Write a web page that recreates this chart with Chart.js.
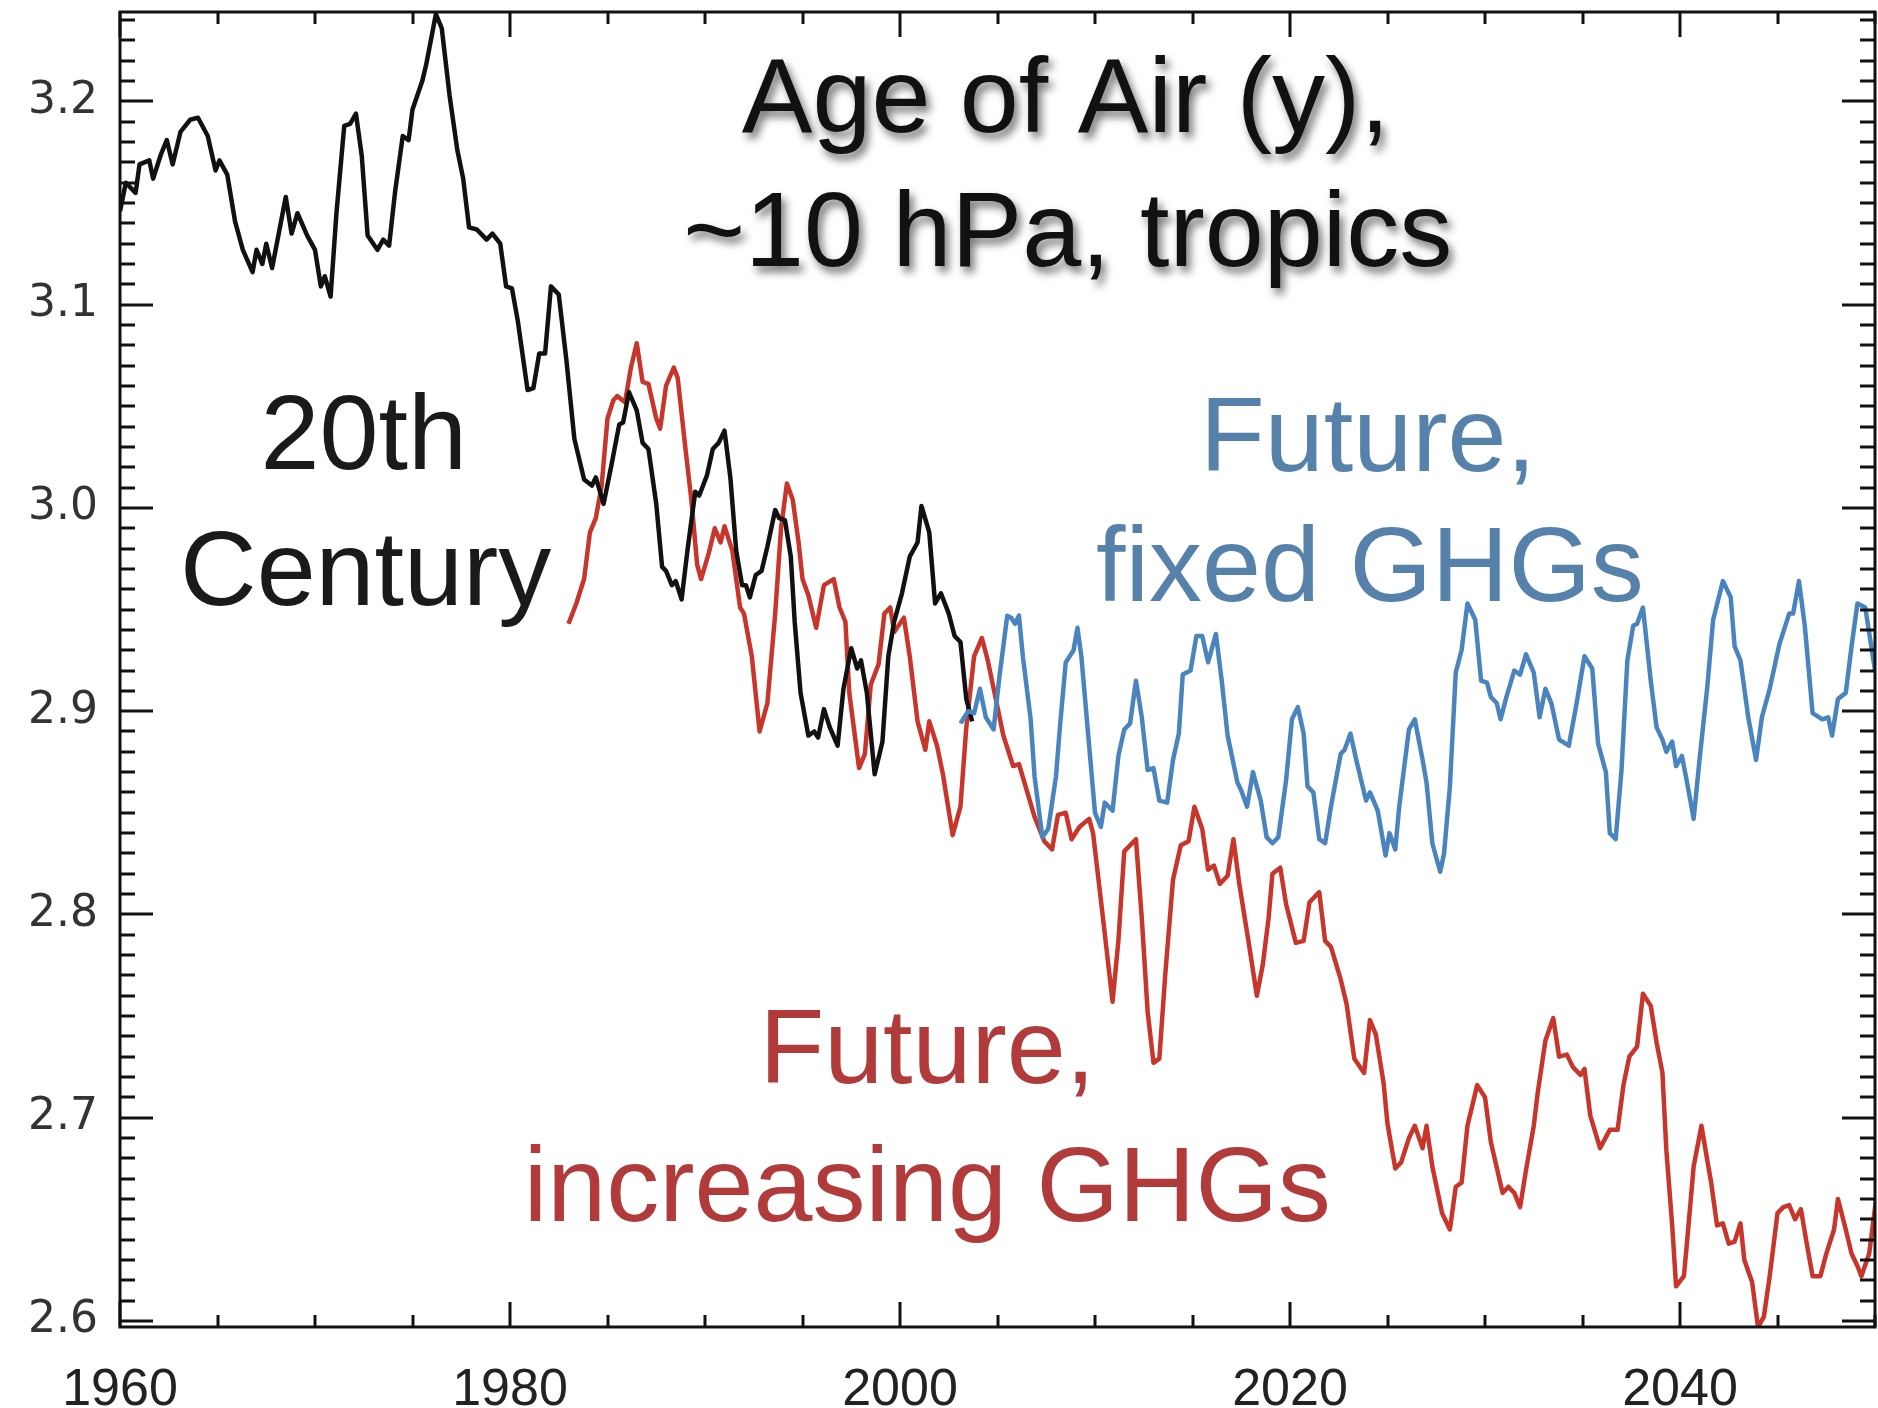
<!DOCTYPE html>
<html>
<head>
<meta charset="utf-8">
<title>Age of Air</title>
<script src="https://cdn.jsdelivr.net/npm/chart.js@4.4.1/dist/chart.umd.min.js"></script>
<style>
  html, body { margin: 0; padding: 0; background: #ffffff; }
  #wrap { width: 1878px; height: 1408px; }
</style>
</head>
<body>
<div id="wrap"><canvas id="ageChart" width="1878" height="1408"></canvas></div>
<script>
// tick labels
const xTickYears = [1960, 1980, 2000, 2020, 2040];
const yTickValues = [2.6, 2.7, 2.8, 2.9, 3.0, 3.1, 3.2];

// 20th century run (black)
const blackX = [1960.0, 1960.3, 1960.8, 1961.0, 1961.5, 1961.7, 1962.1, 1962.4, 1962.7, 1963.1,
  1963.6, 1964.0, 1964.5, 1964.9, 1965.1, 1965.5, 1965.9, 1966.3, 1966.8, 1967.0,
  1967.3, 1967.5, 1967.8, 1968.5, 1968.8, 1969.1, 1969.6, 1970.0, 1970.3, 1970.5,
  1970.8, 1971.1, 1971.5, 1971.8, 1972.1, 1972.4, 1972.7, 1973.2, 1973.5, 1973.8,
  1974.1, 1974.5, 1974.8, 1975.0, 1975.5, 1975.7, 1976.2, 1976.5, 1976.9, 1977.3,
  1977.6, 1977.9, 1978.3, 1978.8, 1979.1, 1979.5, 1979.8, 1980.1, 1980.4, 1980.9,
  1981.2, 1981.5, 1981.8, 1982.1, 1982.5, 1982.9, 1983.3, 1983.8, 1984.2, 1984.4,
  1984.8, 1985.2, 1985.6, 1985.8, 1986.1, 1986.5, 1986.8, 1987.1, 1987.5, 1987.8,
  1988.0, 1988.3, 1988.5, 1988.8, 1989.1, 1989.5, 1989.7, 1990.1, 1990.4, 1990.7,
  1991.0, 1991.3, 1991.6, 1991.9, 1992.1, 1992.3, 1992.6, 1992.9, 1993.2, 1993.6,
  1993.8, 1994.1, 1994.4, 1994.6, 1994.9, 1995.3, 1995.6, 1995.8, 1996.1, 1996.4,
  1996.8, 1997.1, 1997.5, 1997.8, 1998.0, 1998.3, 1998.7, 1999.1, 1999.4, 1999.7,
  2000.1, 2000.5, 2000.9, 2001.1, 2001.5, 2001.8, 2002.1, 2002.5, 2002.8, 2003.1,
  2003.4, 2003.7];
const blackY = [3.146, 3.160, 3.155, 3.169, 3.171, 3.162, 3.174, 3.181, 3.169, 3.185,
  3.191, 3.192, 3.183, 3.166, 3.171, 3.164, 3.141, 3.127, 3.116, 3.127,
  3.120, 3.130, 3.118, 3.153, 3.135, 3.145, 3.134, 3.127, 3.109, 3.114,
  3.104, 3.145, 3.188, 3.189, 3.194, 3.173, 3.134, 3.127, 3.132, 3.129,
  3.155, 3.183, 3.181, 3.196, 3.210, 3.218, 3.243, 3.236, 3.203, 3.176,
  3.162, 3.138, 3.137, 3.132, 3.135, 3.130, 3.109, 3.108, 3.092, 3.058,
  3.059, 3.076, 3.076, 3.109, 3.105, 3.072, 3.034, 3.014, 3.011, 3.015,
  3.002, 3.021, 3.041, 3.042, 3.057, 3.048, 3.032, 3.029, 3.002, 2.971,
  2.969, 2.962, 2.964, 2.955, 2.979, 3.008, 3.006, 3.016, 3.029, 3.032,
  3.038, 3.015, 2.979, 2.962, 2.962, 2.956, 2.967, 2.969, 2.981, 2.999,
  2.995, 2.994, 2.976, 2.944, 2.909, 2.888, 2.890, 2.887, 2.901, 2.892,
  2.883, 2.911, 2.931, 2.921, 2.925, 2.909, 2.869, 2.885, 2.927, 2.944,
  2.958, 2.976, 2.983, 3.001, 2.988, 2.953, 2.958, 2.948, 2.937, 2.934,
  2.906, 2.895];

// future, increasing GHGs (red)
const redX = [1983.0, 1983.4, 1983.8, 1984.1, 1984.4, 1984.7, 1985.0, 1985.3, 1985.5, 1985.9,
  1986.2, 1986.5, 1986.8, 1987.1, 1987.5, 1987.7, 1988.0, 1988.4, 1988.6, 1989.0,
  1989.3, 1989.6, 1989.8, 1990.2, 1990.5, 1990.8, 1991.0, 1991.4, 1991.8, 1992.0,
  1992.4, 1992.8, 1993.2, 1993.6, 1993.9, 1994.2, 1994.5, 1994.8, 1995.0, 1995.3,
  1995.7, 1996.1, 1996.6, 1996.9, 1997.2, 1997.4, 1997.9, 1998.2, 1998.5, 1998.9,
  1999.2, 1999.5, 1999.7, 2000.2, 2000.5, 2000.9, 2001.3, 2001.5, 2001.9, 2002.2,
  2002.7, 2003.1, 2003.4, 2003.8, 2004.2, 2004.5, 2005.0, 2005.3, 2005.8, 2006.1,
  2006.5, 2006.9, 2007.4, 2007.8, 2008.1, 2008.5, 2008.8, 2009.2, 2009.7, 2009.9,
  2010.4, 2010.9, 2011.2, 2011.5, 2012.1, 2012.4, 2012.7, 2013.0, 2013.3, 2013.6,
  2014.0, 2014.4, 2014.8, 2015.1, 2015.5, 2015.8, 2016.1, 2016.4, 2016.8, 2017.1,
  2017.4, 2017.9, 2018.3, 2018.6, 2018.9, 2019.1, 2019.5, 2019.8, 2020.3, 2020.7,
  2021.0, 2021.5, 2021.8, 2022.1, 2022.6, 2022.9, 2023.3, 2023.8, 2024.1, 2024.4,
  2024.8, 2025.0, 2025.4, 2025.7, 2026.1, 2026.4, 2026.8, 2027.0, 2027.3, 2027.8,
  2028.2, 2028.5, 2028.8, 2029.1, 2029.6, 2030.0, 2030.3, 2030.9, 2031.2, 2031.5,
  2031.8, 2032.1, 2032.5, 2032.7, 2033.1, 2033.5, 2033.8, 2034.2, 2034.5, 2034.9,
  2035.1, 2035.4, 2035.9, 2036.4, 2036.8, 2037.1, 2037.4, 2037.8, 2038.1, 2038.5,
  2038.8, 2039.1, 2039.3, 2039.6, 2039.8, 2040.2, 2040.4, 2040.7, 2041.1, 2041.4,
  2041.6, 2041.9, 2042.2, 2042.5, 2042.8, 2043.1, 2043.3, 2043.7, 2044.0, 2044.3,
  2044.6, 2045.0, 2045.3, 2045.6, 2045.9, 2046.2, 2046.5, 2046.8, 2047.2, 2047.5,
  2047.9, 2048.1, 2048.5, 2048.8, 2049.1, 2049.3, 2049.7, 2050.1];
const redY = [2.943, 2.953, 2.965, 2.988, 2.995, 3.011, 3.044, 3.053, 3.055, 3.052,
  3.069, 3.081, 3.062, 3.061, 3.044, 3.039, 3.060, 3.069, 3.064, 3.029,
  3.004, 2.972, 2.965, 2.978, 2.990, 2.983, 2.991, 2.979, 2.951, 2.948,
  2.927, 2.890, 2.904, 2.948, 2.990, 3.012, 3.004, 2.983, 2.965, 2.957,
  2.941, 2.962, 2.965, 2.951, 2.944, 2.909, 2.872, 2.879, 2.913, 2.923,
  2.948, 2.951, 2.939, 2.946, 2.927, 2.895, 2.881, 2.895, 2.883, 2.869,
  2.839, 2.853, 2.892, 2.927, 2.936, 2.925, 2.902, 2.888, 2.873, 2.874,
  2.861, 2.848, 2.836, 2.832, 2.849, 2.850, 2.837, 2.843, 2.847, 2.840,
  2.799, 2.757, 2.787, 2.831, 2.837, 2.798, 2.752, 2.727, 2.729, 2.770,
  2.817, 2.834, 2.836, 2.853, 2.842, 2.822, 2.824, 2.815, 2.819, 2.837,
  2.815, 2.785, 2.760, 2.775, 2.798, 2.820, 2.823, 2.805, 2.786, 2.787,
  2.806, 2.811, 2.787, 2.784, 2.768, 2.756, 2.729, 2.722, 2.748, 2.741,
  2.717, 2.697, 2.675, 2.678, 2.690, 2.696, 2.685, 2.696, 2.676, 2.653,
  2.645, 2.666, 2.668, 2.696, 2.716, 2.710, 2.688, 2.663, 2.666, 2.663,
  2.656, 2.674, 2.696, 2.712, 2.738, 2.749, 2.730, 2.731, 2.725, 2.721,
  2.724, 2.701, 2.685, 2.694, 2.694, 2.716, 2.730, 2.735, 2.761, 2.755,
  2.737, 2.722, 2.684, 2.647, 2.617, 2.622, 2.643, 2.676, 2.696, 2.679,
  2.668, 2.647, 2.648, 2.638, 2.639, 2.648, 2.630, 2.619, 2.597, 2.602,
  2.622, 2.653, 2.656, 2.657, 2.650, 2.655, 2.638, 2.622, 2.622, 2.633,
  2.645, 2.660, 2.645, 2.633, 2.627, 2.622, 2.633, 2.663];

// future, fixed GHGs (blue)
const blueX = [2003.1, 2003.5, 2003.8, 2004.1, 2004.4, 2004.8, 2005.1, 2005.5, 2005.7, 2005.9,
  2006.1, 2006.3, 2006.7, 2006.9, 2007.3, 2007.6, 2008.0, 2008.2, 2008.5, 2008.9,
  2009.1, 2009.3, 2009.7, 2010.0, 2010.3, 2010.5, 2010.9, 2011.2, 2011.5, 2011.8,
  2012.1, 2012.4, 2012.7, 2013.0, 2013.3, 2013.7, 2014.0, 2014.3, 2014.5, 2014.9,
  2015.2, 2015.5, 2015.8, 2016.2, 2016.5, 2016.8, 2017.3, 2017.5, 2017.8, 2018.1,
  2018.5, 2018.8, 2019.1, 2019.4, 2019.8, 2020.1, 2020.4, 2020.7, 2020.9, 2021.2,
  2021.5, 2021.8, 2022.1, 2022.6, 2022.8, 2023.1, 2023.4, 2023.9, 2024.1, 2024.5,
  2024.9, 2025.1, 2025.4, 2025.6, 2026.1, 2026.4, 2026.8, 2027.0, 2027.3, 2027.7,
  2027.9, 2028.2, 2028.5, 2028.8, 2029.1, 2029.5, 2029.8, 2030.1, 2030.3, 2030.6,
  2030.8, 2031.1, 2031.5, 2031.8, 2032.1, 2032.5, 2032.8, 2033.1, 2033.4, 2033.8,
  2034.3, 2034.7, 2035.1, 2035.5, 2035.8, 2036.2, 2036.4, 2036.7, 2037.0, 2037.3,
  2037.6, 2037.8, 2038.1, 2038.5, 2038.8, 2039.1, 2039.3, 2039.6, 2039.8, 2040.1,
  2040.4, 2040.7, 2041.0, 2041.4, 2041.7, 2042.2, 2042.6, 2042.8, 2043.1, 2043.5,
  2043.9, 2044.2, 2044.6, 2045.1, 2045.6, 2045.8, 2046.1, 2046.4, 2046.8, 2047.3,
  2047.6, 2047.8, 2048.1, 2048.5, 2048.8, 2049.1, 2049.5, 2050.0];
const blueY = [2.894, 2.900, 2.899, 2.911, 2.897, 2.891, 2.917, 2.947, 2.946, 2.943,
  2.947, 2.927, 2.896, 2.868, 2.838, 2.842, 2.868, 2.892, 2.924, 2.930,
  2.941, 2.927, 2.883, 2.850, 2.843, 2.855, 2.851, 2.878, 2.891, 2.894,
  2.915, 2.897, 2.871, 2.872, 2.856, 2.855, 2.876, 2.889, 2.918, 2.920,
  2.937, 2.937, 2.924, 2.938, 2.915, 2.888, 2.865, 2.861, 2.853, 2.870,
  2.856, 2.838, 2.835, 2.838, 2.866, 2.896, 2.902, 2.889, 2.863, 2.860,
  2.837, 2.835, 2.853, 2.879, 2.881, 2.889, 2.876, 2.856, 2.860, 2.851,
  2.829, 2.840, 2.832, 2.853, 2.891, 2.896, 2.876, 2.865, 2.835, 2.821,
  2.830, 2.863, 2.919, 2.930, 2.953, 2.945, 2.915, 2.914, 2.907, 2.904,
  2.896, 2.907, 2.920, 2.918, 2.928, 2.919, 2.897, 2.911, 2.904, 2.886,
  2.883, 2.904, 2.927, 2.921, 2.884, 2.870, 2.840, 2.837, 2.871, 2.925,
  2.942, 2.943, 2.951, 2.915, 2.892, 2.886, 2.880, 2.885, 2.873, 2.878,
  2.863, 2.847, 2.876, 2.912, 2.945, 2.964, 2.956, 2.932, 2.925, 2.897,
  2.876, 2.897, 2.911, 2.933, 2.948, 2.948, 2.964, 2.942, 2.899, 2.896,
  2.897, 2.888, 2.906, 2.909, 2.932, 2.953, 2.951, 2.920];

function toPoints(xs, ys) {
    return xs.map((x, i) => ({ x: x, y: ys[i] }));
}

// text placed on the plot, anchored in data units (centre x, baseline y)
const labels = [
    { text: 'Age of Air (y),', x: 2008.5, y: 3.185, color: '#111111', shadow: true },
    { text: '~10 hPa, tropics', x: 2008.6, y: 3.119, color: '#111111', shadow: true },
    { text: '20th', x: 1972.5, y: 3.019, color: '#1a1a1a' },
    { text: 'Century', x: 1972.6, y: 2.952, color: '#1a1a1a' },
    { text: 'Future,', x: 2024.0, y: 3.018, color: '#5681ab' },
    { text: 'fixed GHGs', x: 2024.1, y: 2.954, color: '#5681ab' },
    { text: 'Future,', x: 2001.4, y: 2.717, color: '#b13b3b' },
    { text: 'increasing GHGs', x: 2001.4, y: 2.649, color: '#b13b3b' }
];

const textPlugin = {
    id: 'plotText',
    afterDatasetsDraw(chart) {
        const c = chart.ctx;
        const xs = chart.scales.x, ys = chart.scales.y;
        c.save();
        c.font = '106px "Liberation Sans", Arial, sans-serif';
        c.textAlign = 'center';
        c.textBaseline = 'alphabetic';
        labels.forEach(l => {
            c.fillStyle = l.color;
            if (l.shadow) {
                c.shadowColor = 'rgba(0,0,0,0.55)';
                c.shadowBlur = 8;
                c.shadowOffsetX = 4;
                c.shadowOffsetY = 6;
            } else {
                c.shadowColor = 'transparent';
                c.shadowBlur = 0;
                c.shadowOffsetX = 0;
                c.shadowOffsetY = 0;
            }
            c.fillText(l.text, xs.getPixelForValue(l.x), ys.getPixelForValue(l.y));
        });
        c.restore();
    }
};

// box with inward ticks on all four sides
const framePlugin = {
    id: 'frame',
    afterDraw(chart) {
        const c = chart.ctx;
        const a = chart.chartArea;
        const xs = chart.scales.x, ys = chart.scales.y;
        c.save();
        c.strokeStyle = '#111111';
        c.lineWidth = 3;
        c.strokeRect(a.left, a.top, a.right - a.left, a.bottom - a.top);
        c.beginPath();
        for (let yr = 1960; yr <= 2050; yr += 5) {
            const px = Math.round(xs.getPixelForValue(yr));
            const len = (yr % 20 === 0) ? 25 : 12;
            c.moveTo(px, a.bottom); c.lineTo(px, a.bottom - len);
            c.moveTo(px, a.top); c.lineTo(px, a.top + len);
        }
        for (let k = 260; k <= 324; k++) {
            const py = Math.round(ys.getPixelForValue(k / 100));
            const len = (k % 10 === 0) ? 33 : 15;
            c.moveTo(a.left, py); c.lineTo(a.left + len, py);
            c.moveTo(a.right, py); c.lineTo(a.right - len, py);
        }
        c.stroke();
        c.restore();
    }
};

const ctx = document.getElementById('ageChart').getContext('2d');
const chart = new Chart(ctx, {
    type: 'line',
    data: {
        datasets: [
            { label: 'Future, fixed GHGs', data: toPoints(blueX, blueY), borderColor: '#4a84bf', borderWidth: 4.5 },
            { label: '20th Century', data: toPoints(blackX, blackY), borderColor: '#111111', borderWidth: 4.5 },
            { label: 'Future, increasing GHGs', data: toPoints(redX, redY), borderColor: '#c7352b', borderWidth: 4.5 }
        ]
    },
    options: {
        responsive: false,
        animation: false,
        elements: { point: { radius: 0 }, line: { tension: 0, borderJoinStyle: 'round' } },
        layout: { padding: { top: 12, right: 3, left: 0, bottom: 0 } },
        plugins: { legend: { display: false }, tooltip: { enabled: false } },
        scales: {
            x: {
                type: 'linear',
                min: 1960,
                max: 2050,
                grid: { display: false, drawTicks: false },
                border: { display: false },
                ticks: {
                    autoSkip: false,
                    maxRotation: 0,
                    padding: 32,
                    color: '#222222',
                    font: { family: '"Liberation Sans", Arial, sans-serif', size: 52 },
                    callback: v => String(v)
                },
                afterBuildTicks: s => { s.ticks = xTickYears.map(v => ({ value: v })); },
                afterFit: s => { s.height = 81; s.paddingLeft = 0; s.paddingRight = 0; }
            },
            y: {
                type: 'linear',
                min: 2.597,
                max: 3.244,
                grid: { display: false, drawTicks: false },
                border: { display: false },
                ticks: {
                    autoSkip: false,
                    padding: 22,
                    color: '#333333',
                    font: { family: '"DejaVu Sans", sans-serif', size: 44 },
                    callback: v => v.toFixed(1)
                },
                afterBuildTicks: s => { s.ticks = yTickValues.map(v => ({ value: v })); },
                afterFit: s => { s.width = 120; s.paddingTop = 0; s.paddingBottom = 0; }
            }
        }
    },
    plugins: [textPlugin, framePlugin]
});
</script>
</body>
</html>
